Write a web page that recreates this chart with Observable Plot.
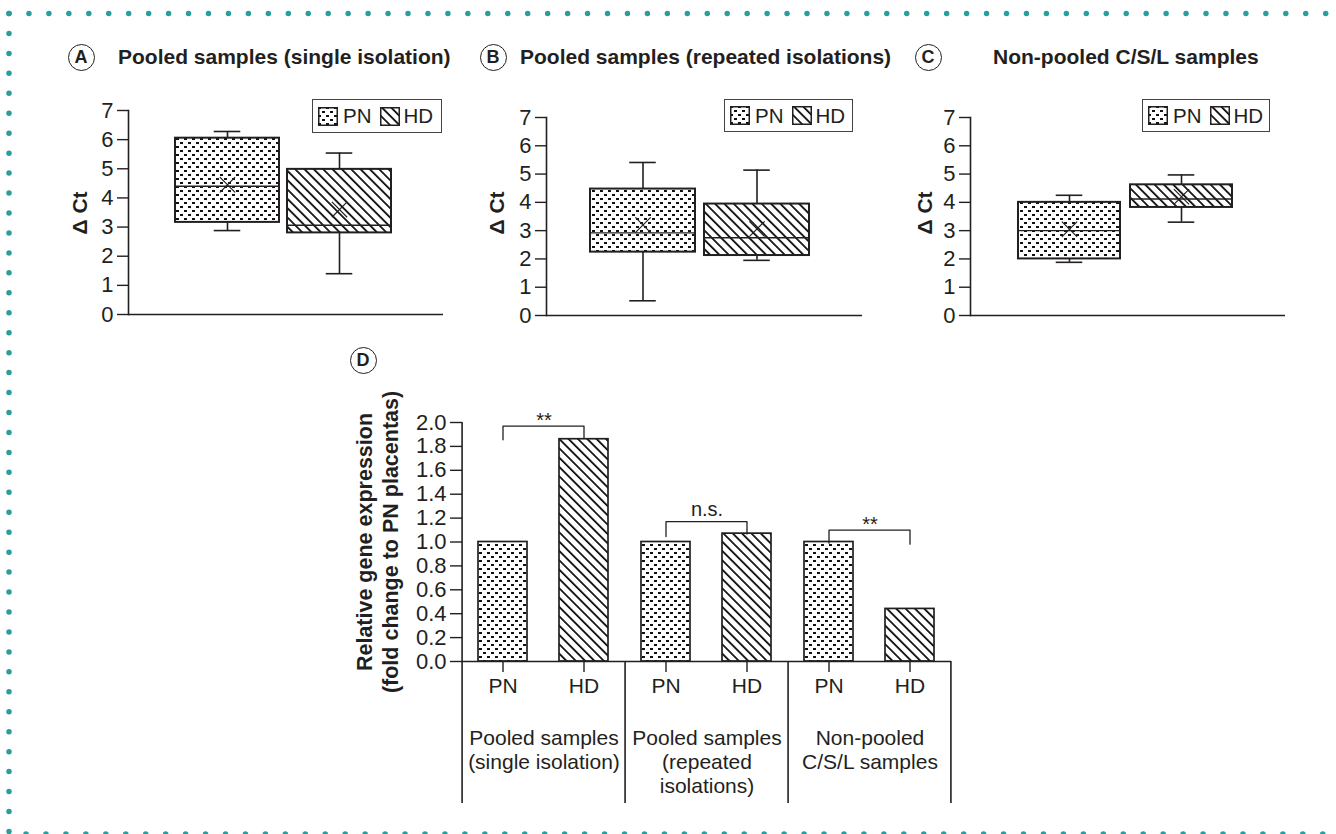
<!DOCTYPE html>
<html><head><meta charset="utf-8">
<script src="https://cdn.jsdelivr.net/npm/d3@7"></script>
<script src="https://cdn.jsdelivr.net/npm/@observablehq/plot@0.6"></script>
<style>
html,body{margin:0;padding:0;background:#fff;}
#root{position:relative;width:1336px;height:834px;overflow:hidden;font-family:"Liberation Sans",Arial,Helvetica,sans-serif;color:#231f20;}
.circ{position:absolute;width:27px;height:27px;box-sizing:border-box;border:1.6px solid #231f20;border-radius:50%;display:flex;align-items:center;justify-content:center;font-weight:bold;font-size:18px;line-height:1;background:#fff;}
.title{position:absolute;font-weight:bold;font-size:21px;line-height:24px;white-space:nowrap;}
.ylab{position:absolute;font-weight:bold;font-size:21px;line-height:24px;white-space:nowrap;transform:translate(-50%,-50%) rotate(-90deg);}
.legend{position:absolute;box-sizing:border-box;border:1.5px solid #444;display:flex;align-items:center;font-size:20.5px;padding-left:5px;background:#fff;}
.legend svg{display:block;}
.panel{position:absolute;}
</style></head><body>
<svg width="0" height="0" style="position:absolute">
  <defs>
    <pattern id="pn" patternUnits="userSpaceOnUse" width="8" height="8">
      <rect width="8" height="8" fill="#fff"/>
      <rect x="0" y="0" width="3" height="2" fill="#111"/>
      <rect x="4" y="4" width="3" height="2" fill="#111"/>
    </pattern>
    <pattern id="hd" patternUnits="userSpaceOnUse" width="6.6" height="6.6" patternTransform="rotate(-45)">
      <rect width="6.6" height="6.6" fill="#fff"/>
      <rect x="0" y="0" width="1.8" height="6.6" fill="#111"/>
    </pattern>
  </defs>
</svg>
<div id="root"></div>
<script>
// ---------- data ----------
const samples = ["PN", "HD"];
const patternFills = ["url(#pn)", "url(#hd)"];
const panelLetters = ["A", "B", "C", "D"];
const panelTitles = ["Pooled samples (single isolation)", "Pooled samples (repeated isolations)", "Non-pooled C/S/L samples"];
const ctTicks = [0, 1, 2, 3, 4, 5, 6, 7];
const ctLabel = "Δ Ct";

// Panel A (ΔCt box plots)
const aLow = [2.88, 1.40];
const aQ1 = [3.16, 2.80];
const aMedian = [4.40, 3.06];
const aQ3 = [6.05, 4.98];
const aHigh = [6.28, 5.54];
const aMean = [4.45, 3.60];
// Panel B
const bLow = [0.52, 1.95];
const bQ1 = [2.24, 2.12];
const bMedian = [2.92, 2.75];
const bQ3 = [4.47, 3.94];
const bHigh = [5.41, 5.14];
const bMean = [3.20, 3.06];
// Panel C
const cLow = [1.88, 3.30];
const cQ1 = [2.00, 3.82];
const cMedian = [3.00, 4.12];
const cQ3 = [4.00, 4.62];
const cHigh = [4.25, 4.97];
const cMean = [3.05, 4.20];

// Panel D (relative expression)
const groupLabels = ["Pooled samples\n(single isolation)", "Pooled samples\n(repeated\nisolations)", "Non-pooled\nC/S/L samples"];
const pnExpression = [1.00, 1.00, 1.00];
const hdExpression = [1.86, 1.07, 0.44];
const expressionTicks = [0.0, 0.2, 0.4, 0.6, 0.8, 1.0, 1.2, 1.4, 1.6, 1.8, 2.0];
const expressionLabel = "Relative gene expression\n(fold change to PN placentas)";
const sigLabels = ["**", "n.s.", "**"];
const sigTop = [1.97, 1.17, 1.10];
const sigLeftEnd = [1.855, 1.046, 0.99];
const sigRightEnd = [1.87, 1.066, 0.982];

// ---------- layout / style ----------
const INK = "#231f20";
const FONT = '"Liberation Sans", Arial, Helvetica, sans-serif';
const TICK_FS = 22;
const root = document.getElementById("root");

function place(el, left, top) {
  const d = document.createElement("div");
  d.className = "panel";
  d.style.left = left + "px";
  d.style.top = top + "px";
  d.appendChild(el);
  root.appendChild(d);
}

function boxPanel(stats, L) {
  const rows = samples.map((s, i) => ({
    sample: s, low: stats.low[i], q1: stats.q1[i], median: stats.median[i],
    q3: stats.q3[i], high: stats.high[i], mean: stats.mean[i]
  }));
  const pi = L.paddingInner;
  const bw = (L.range[1] - L.range[0]) / (2 - pi) * (1 - pi);
  const capInset = (bw - 27) / 2;
  return Plot.plot({
    width: L.width, height: L.height,
    marginLeft: L.ml, marginRight: L.mr, marginTop: L.mt, marginBottom: L.mb,
    x: {domain: samples, range: L.range, paddingInner: pi, paddingOuter: 0, axis: null},
    y: {domain: [0, 7]},
    color: {domain: samples, range: patternFills},
    style: {fontFamily: FONT, fontSize: "21px", color: INK, background: "transparent", overflow: "visible"},
    marks: [
      Plot.ruleX(rows, {x: "sample", y1: "low", y2: "high", stroke: INK, strokeWidth: 1.6}),
      Plot.tickY(rows, {x: "sample", y: "low", insetLeft: capInset, insetRight: capInset, stroke: INK, strokeWidth: 1.6}),
      Plot.tickY(rows, {x: "sample", y: "high", insetLeft: capInset, insetRight: capInset, stroke: INK, strokeWidth: 1.6}),
      Plot.barY(rows, {x: "sample", y1: "q1", y2: "q3", fill: "sample", stroke: INK, strokeWidth: 2}),
      Plot.tickY(rows, {x: "sample", y: "median", stroke: INK, strokeWidth: 1.4}),
      Plot.dot(rows, {x: "sample", y: "mean", symbol: "times", r: 7, stroke: INK, strokeWidth: 1.2}),
      Plot.ruleY([0], {stroke: INK, strokeWidth: 1.6}),
      Plot.frame({anchor: "left", stroke: INK, strokeWidth: 1.6}),
      Plot.axisY(ctTicks, {tickSize: 11, tickPadding: 4, fontSize: TICK_FS, label: null, stroke: INK, strokeWidth: 1.4})
    ]
  });
}

place(boxPanel({low: aLow, q1: aQ1, median: aMedian, q3: aQ3, high: aHigh, mean: aMean},
  {width: 460, height: 240, ml: 128, mr: 17, mt: 20, mb: 16, range: [174, 391], paddingInner: 0.072}), 0, 90);
place(boxPanel({low: bLow, q1: bQ1, median: bMedian, q3: bQ3, high: bHigh, mean: bMean},
  {width: 440, height: 240, ml: 86, mr: 38, mt: 27, mb: 15, range: [129, 349], paddingInner: 0.079}), 460, 90);
place(boxPanel({low: cLow, q1: cQ1, median: cMedian, q3: cQ3, high: cHigh, mean: cMean},
  {width: 436, height: 240, ml: 70, mr: 51, mt: 27, mb: 15, range: [117, 332], paddingInner: 0.09}), 900, 90);

// ---------- panel D ----------
const D = {width: 640, height: 454, ml: 131, mr: 18, mt: 42, mb: 173};
const frameH = D.height - D.mt - D.mb;
const facetW = (D.width - D.ml - D.mr) / groupLabels.length;
const halfStep = facetW / 4;
const sepBottom = -142 * (2 / frameH);

const bars = groupLabels.flatMap((g, i) => [
  {group: g, sample: "PN", value: pnExpression[i]},
  {group: g, sample: "HD", value: hdExpression[i]}
]);
const brackets = groupLabels.flatMap((g, i) => [
  {group: g, sample: "PN", y: sigLeftEnd[i]},
  {group: g, sample: "PN", y: sigTop[i]},
  {group: g, sample: "HD", y: sigTop[i]},
  {group: g, sample: "HD", y: sigRightEnd[i]}
]);
const sigs = groupLabels.map((g, i) => ({group: g, label: sigLabels[i], y: sigTop[i]}));
const separators = groupLabels.map((g, i) => ({group: g, sample: "PN", top: i === 0 ? expressionTicks[expressionTicks.length - 1] : 0}));
const rightEdge = [{group: groupLabels[groupLabels.length - 1], sample: "HD", top: 0}];

const plotD = Plot.plot({
  width: D.width, height: D.height,
  marginLeft: D.ml, marginRight: D.mr, marginTop: D.mt, marginBottom: D.mb,
  fx: {domain: groupLabels, padding: 0},
  x: {domain: samples, paddingInner: 0.39, paddingOuter: 0.195},
  y: {domain: [0, 2]},
  color: {domain: samples, range: patternFills},
  style: {fontFamily: FONT, fontSize: "21px", color: INK, background: "transparent", overflow: "visible"},
  marks: [
    Plot.barY(bars, {fx: "group", x: "sample", y: "value", fill: "sample", stroke: INK, strokeWidth: 1.7}),
    Plot.ruleY([0], {stroke: INK, strokeWidth: 1.6}),
    Plot.ruleX(separators, {fx: "group", x: "sample", y1: "top", y2: () => sepBottom, dx: -halfStep, stroke: INK, strokeWidth: 1.6}),
    Plot.ruleX(rightEdge, {fx: "group", x: "sample", y1: "top", y2: () => sepBottom, dx: halfStep, stroke: INK, strokeWidth: 1.6}),
    Plot.axisY(expressionTicks, {tickFormat: d3.format(".1f"), tickSize: 12, tickPadding: 4, fontSize: TICK_FS, label: null, stroke: INK, strokeWidth: 1.4}),
    Plot.axisX({tickSize: 11, tickPadding: 6, fontSize: 21, label: null, stroke: INK, strokeWidth: 1.4}),
    Plot.axisFx({anchor: "bottom", tickSize: 0, tickPadding: 66, fontSize: 21, lineHeight: 1.15, label: null}),
    Plot.line(brackets, {fx: "group", x: "sample", y: "y", z: "group", stroke: INK, strokeWidth: 1.3}),
    Plot.text(sigs.filter(d => d.label !== "n.s."), {fx: "group", y: "y", text: "label", dy: -5, fontSize: 20}),
    Plot.text(sigs.filter(d => d.label === "n.s."), {fx: "group", y: "y", text: "label", dy: -12.5, fontSize: 20}),
    Plot.text([{group: groupLabels[0], t: expressionLabel}], {fx: "group", text: "t", frameAnchor: "left", textAnchor: "middle", rotate: -90, dx: -86, fontWeight: "bold", fontSize: 21.5, lineHeight: 1.2})
  ]
});
place(plotD, 330, 380);

// ---------- titles, letters, legends, y labels ----------
function circ(letter, cx, cy) {
  const d = document.createElement("div");
  d.className = "circ";
  d.textContent = letter;
  d.style.left = (cx - 13.5) + "px";
  d.style.top = (cy - 13.5) + "px";
  root.appendChild(d);
}
function title(text, left, cy) {
  const d = document.createElement("div");
  d.className = "title";
  d.textContent = text;
  d.style.left = left + "px";
  d.style.top = (cy - 12) + "px";
  root.appendChild(d);
}
function ylab(text, cx, cy) {
  const d = document.createElement("div");
  d.className = "ylab";
  d.textContent = text;
  d.style.left = cx + "px";
  d.style.top = cy + "px";
  root.appendChild(d);
}
function swatch(fill) {
  const ns = "http://www.w3.org/2000/svg";
  const s = document.createElementNS(ns, "svg");
  s.setAttribute("width", 20); s.setAttribute("height", 19);
  const r = document.createElementNS(ns, "rect");
  r.setAttribute("x", 0.75); r.setAttribute("y", 0.75);
  r.setAttribute("width", 18.5); r.setAttribute("height", 17.5);
  r.setAttribute("fill", fill); r.setAttribute("stroke", INK); r.setAttribute("stroke-width", 1.5);
  s.appendChild(r);
  return s;
}
function legend(left, top, width, height) {
  const d = document.createElement("div");
  d.className = "legend";
  d.style.left = left + "px"; d.style.top = top + "px";
  d.style.width = width + "px"; d.style.height = height + "px";
  samples.forEach((s, i) => {
    const sw = swatch(patternFills[i]);
    sw.style.marginLeft = i === 0 ? "0px" : "9px";
    sw.style.marginRight = i === 0 ? "5px" : "3px";
    d.appendChild(sw);
    const t = document.createElement("span");
    t.textContent = s;
    d.appendChild(t);
  });
  root.appendChild(d);
}

circ(panelLetters[0], 81, 57);
circ(panelLetters[1], 493, 57);
circ(panelLetters[2], 928, 57);
circ(panelLetters[3], 363, 360);
title(panelTitles[0], 118, 57);
title(panelTitles[1], 520, 57);
title(panelTitles[2], 993, 57);
ylab(ctLabel, 80, 213);
ylab(ctLabel, 497, 213);
ylab(ctLabel, 925, 213);
legend(312, 99, 130, 34);
legend(724, 99, 129, 33);
legend(1142, 99, 128, 33);

// ---------- dotted teal border ----------
const ns = "http://www.w3.org/2000/svg";
const border = document.createElementNS(ns, "svg");
border.setAttribute("width", 1336); border.setAttribute("height", 834);
border.style.position = "absolute"; border.style.left = "0"; border.style.top = "0";
border.style.pointerEvents = "none";
[[9, 13.5, 1336, 13.5], [9, 13.5, 9, 840], [26, 834, 1336, 834]].forEach(([x1, y1, x2, y2]) => {
  const l = document.createElementNS(ns, "line");
  l.setAttribute("x1", x1); l.setAttribute("y1", y1); l.setAttribute("x2", x2); l.setAttribute("y2", y2);
  l.setAttribute("stroke", "#2a9e9c"); l.setAttribute("stroke-width", 5.5);
  l.setAttribute("stroke-linecap", "round"); l.setAttribute("stroke-dasharray", "0 19.95");
  border.appendChild(l);
});
root.appendChild(border);
</script>
</body></html>
